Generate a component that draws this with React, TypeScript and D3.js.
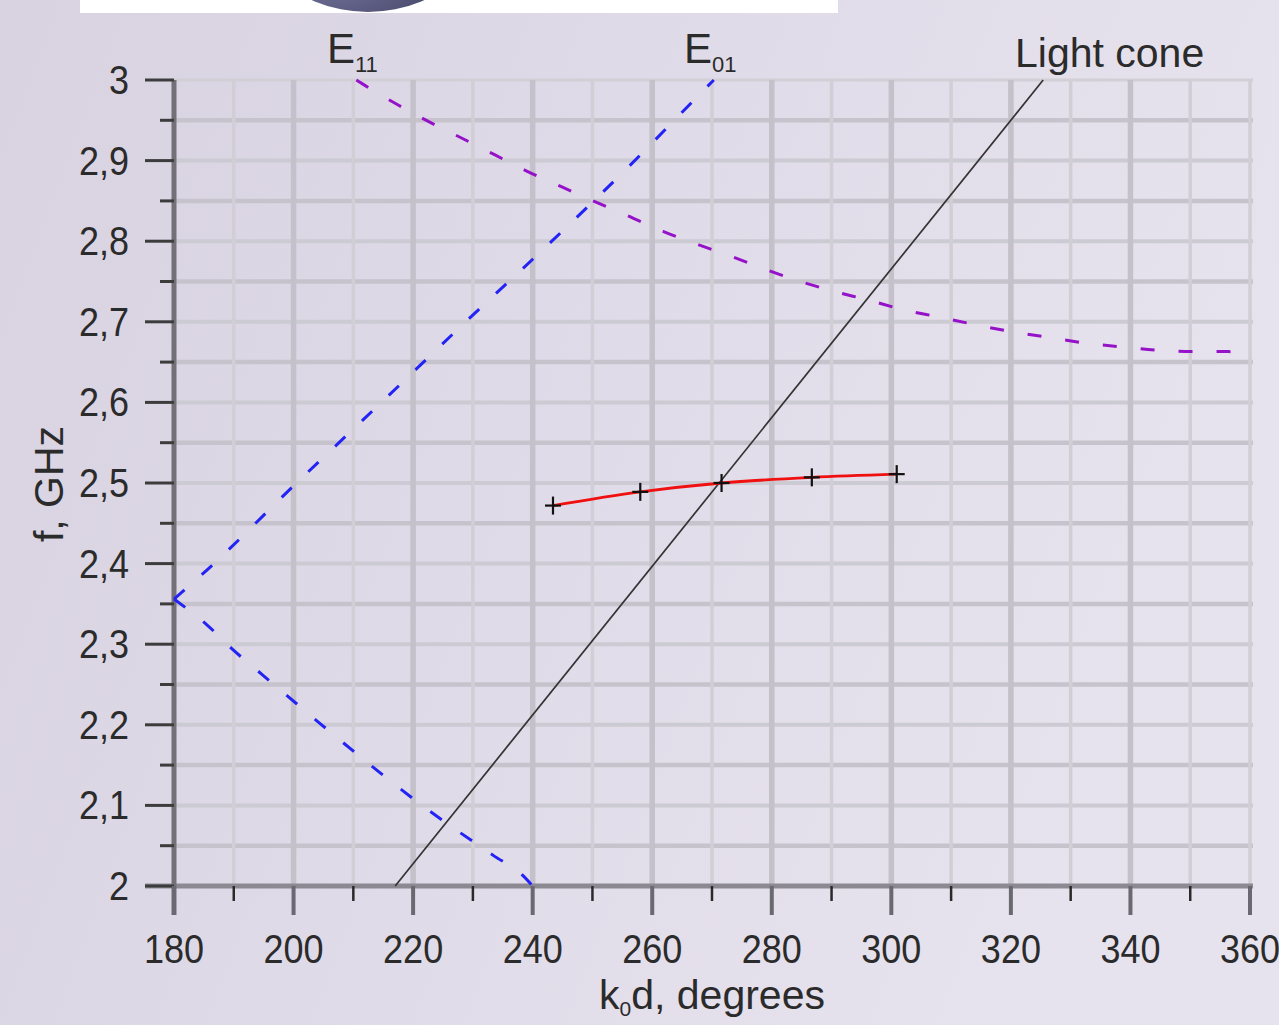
import * as d3 from "d3";

const W = 1279;
const H = 1025;
const PLOT = { left: 174, right: 1250, top: 80, bottom: 886 };
const FONT = "'Liberation Sans', Arial, sans-serif";
const INK = "#2b2b2b";

// axis ticks
const xTicks = [180, 200, 220, 240, 260, 280, 300, 320, 340, 360];
const yTicks = [2, 2.1, 2.2, 2.3, 2.4, 2.5, 2.6, 2.7, 2.8, 2.9, 3];
const yTickLabels = ["2", "2,1", "2,2", "2,3", "2,4", "2,5", "2,6", "2,7", "2,8", "2,9", "3"];

// E11 mode (purple dashed)
const e11Kd = [210.5, 212, 217.5, 222.7, 228.1, 233.7, 239, 244.7, 250.1, 255.8, 261.9, 267.2, 272.9, 278.6, 284.4, 290.3, 296.1, 302, 307.9, 313.7, 319.9, 326, 332.1, 338.3, 344.1, 350.2, 356.4, 360];
const e11F = [3.0, 2.993, 2.969, 2.948, 2.928, 2.907, 2.887, 2.868, 2.85, 2.832, 2.812, 2.797, 2.782, 2.766, 2.751, 2.738, 2.727, 2.715, 2.706, 2.697, 2.688, 2.681, 2.674, 2.669, 2.665, 2.663, 2.663, 2.662];

// E01 mode (blue dashed), two branches from the vertex at 180
const e01UpKd = [180, 185.5, 200.5, 214.7, 228.8, 243.2, 256, 268.7, 270.3];
const e01UpF = [2.356, 2.392, 2.5, 2.6, 2.7, 2.8, 2.892, 2.988, 3.0];
const e01LowKd = [180, 185.5, 189.9, 194.8, 199.1, 204.7, 221.5, 233.4, 238.2, 240];
const e01LowF = [2.356, 2.324, 2.293, 2.262, 2.235, 2.2, 2.1, 2.038, 2.014, 2.0];

// light cone
const coneKd = [217, 325.4];
const coneF = [2, 3];

// measured points (red)
const measKd = [243.4, 258, 271.6, 286.7, 300.9];
const measF = [2.472, 2.489, 2.5, 2.507, 2.511];

const x = d3.scaleLinear().domain([180, 360]).range([PLOT.left, PLOT.right]);
const y = d3.scaleLinear().domain([2, 3]).range([PLOT.bottom, PLOT.top]);

const zip = (a: number[], b: number[]) => a.map((v, i) => [v, b[i]] as [number, number]);

const smooth = d3
  .line<[number, number]>()
  .x((d) => x(d[0]))
  .y((d) => y(d[1]))
  .curve(d3.curveMonotoneX);

function Squeezed({ px, py, anchor, children }: any) {
  return (
    <g transform={`translate(${px},${py}) scale(0.9,1)`}>
      <text textAnchor={anchor} fontSize={40} fontFamily={FONT} fill={INK}>
        {children}
      </text>
    </g>
  );
}

export default function App() {
  const vGrid = d3.range(190, 361, 10);
  const hGrid = d3.range(1, 21).map((i) => 2 + i * 0.05);
  const yMinor = d3.range(0, 10).map((i) => 2.05 + i * 0.1);
  const xMinor = d3.range(0, 9).map((i) => 190 + i * 20);

  return (
    <svg
      width={W}
      height={H}
      style={{ position: "absolute", left: 0, top: 0 }}
    >
      <defs>
        <linearGradient id="bg" x1="0" y1="0" x2="1" y2="0.3">
          <stop offset="0" stopColor="#d8d2e1" />
          <stop offset="1" stopColor="#e7e3ee" />
        </linearGradient>
        <radialGradient id="ball" cx="0.35" cy="0.6" r="0.7">
          <stop offset="0" stopColor="#a3a3c8" />
          <stop offset="0.6" stopColor="#5a5a80" />
          <stop offset="1" stopColor="#30304a" />
        </radialGradient>
        <clipPath id="topbox">
          <rect x={80} y={0} width={758} height={13} />
        </clipPath>
      </defs>

      <rect width={W} height={H} fill="url(#bg)" />

      {/* decorative strip at the top */}
      <rect x={80} y={0} width={758} height={13} fill="#ffffff" />
      <circle cx={368} cy={-127} r={139} fill="url(#ball)" clipPath="url(#topbox)" />

      {/* grid */}
      {hGrid.map((v, i) => {
        const odd = i % 2 === 0;
        const top = Math.abs(v - 3) < 1e-6;
        return (
          <line
            key={`h${i}`}
            x1={PLOT.left}
            x2={PLOT.right + 3}
            y1={y(v)}
            y2={y(v)}
            stroke={top ? "#d2cfd6" : odd ? "#c6c3cc" : "#cccad2"}
            strokeWidth={top ? 3 : odd ? 4.5 : 4}
          />
        );
      })}
      {vGrid.map((v) => {
        const major = v % 20 === 0 && v !== 360;
        return (
          <line
            key={`v${v}`}
            x1={x(v)}
            x2={x(v)}
            y1={PLOT.top}
            y2={PLOT.bottom}
            stroke={major ? "#c4c1ca" : "#d1ced6"}
            strokeWidth={major ? 5.5 : 3.5}
          />
        );
      })}

      {/* axes */}
      <line x1={145} x2={PLOT.right + 3} y1={PLOT.bottom} y2={PLOT.bottom} stroke="#8c8992" strokeWidth={5} />
      <line x1={PLOT.left} x2={PLOT.left} y1={PLOT.top} y2={915} stroke="#737078" strokeWidth={5} />

      {yTicks.map((v) => (
        <line key={`yt${v}`} x1={145} x2={PLOT.left} y1={y(v)} y2={y(v)} stroke="#3c3c3c" strokeWidth={3} />
      ))}
      {yMinor.map((v) => (
        <line key={`ym${v}`} x1={160} x2={PLOT.left} y1={y(v)} y2={y(v)} stroke="#3c3c3c" strokeWidth={3} />
      ))}
      {xTicks.map((v) => (
        <line key={`xt${v}`} x1={x(v)} x2={x(v)} y1={PLOT.bottom} y2={915} stroke="#6a6870" strokeWidth={4} />
      ))}
      {xMinor.map((v) => (
        <line key={`xm${v}`} x1={x(v)} x2={x(v)} y1={PLOT.bottom} y2={901} stroke="#2a2a2a" strokeWidth={2.5} />
      ))}

      {/* curves */}
      <path d={smooth(zip(e11Kd, e11F)) ?? ""} fill="none" stroke="#9512c9" strokeWidth={3} strokeDasharray="14 24" />
      <path d={smooth(zip(e01UpKd, e01UpF)) ?? ""} fill="none" stroke="#2323f5" strokeWidth={3} strokeDasharray="14 23" />
      <path d={smooth(zip(e01LowKd, e01LowF)) ?? ""} fill="none" stroke="#2323f5" strokeWidth={3} strokeDasharray="14 23" />
      <path d={smooth(zip(coneKd, coneF)) ?? ""} fill="none" stroke="#333" strokeWidth={1.7} />
      <path d={smooth(zip(measKd, measF)) ?? ""} fill="none" stroke="#f01010" strokeWidth={2.8} />
      {measKd.map((k, i) => (
        <g key={`m${i}`} stroke="#111" strokeWidth={2.2}>
          <line x1={x(k) - 8} x2={x(k) + 8} y1={y(measF[i])} y2={y(measF[i])} />
          <line x1={x(k)} x2={x(k)} y1={y(measF[i]) - 9} y2={y(measF[i]) + 9} />
        </g>
      ))}

      {/* tick labels */}
      {xTicks.map((v) => (
        <Squeezed key={`xl${v}`} px={x(v)} py={963} anchor="middle">
          {v}
        </Squeezed>
      ))}
      {yTicks.map((v, i) => (
        <Squeezed key={`yl${v}`} px={129} py={y(v) + 14} anchor="end">
          {yTickLabels[i]}
        </Squeezed>
      ))}

      {/* axis titles */}
      <text x={(PLOT.left + PLOT.right) / 2} y={1009} textAnchor="middle" fontSize={41} fontFamily={FONT} fill={INK}>
        k<tspan fontSize={21} dy={7}>0</tspan>
        <tspan dy={-7}>d, degrees</tspan>
      </text>
      <text
        transform="translate(63,484) rotate(-90)"
        textAnchor="middle"
        fontSize={41}
        fontFamily={FONT}
        fill={INK}
      >
        f, GHz
      </text>

      {/* curve labels */}
      <text x={327} y={63} fontSize={42} fontFamily={FONT} fill={INK}>
        E<tspan fontSize={22} dy={9}>11</tspan>
      </text>
      <text x={684} y={63} fontSize={42} fontFamily={FONT} fill={INK}>
        E<tspan fontSize={22} dy={9}>01</tspan>
      </text>
      <text x={1015} y={67} fontSize={41} fontFamily={FONT} fill={INK}>
        Light cone
      </text>
    </svg>
  );
}
